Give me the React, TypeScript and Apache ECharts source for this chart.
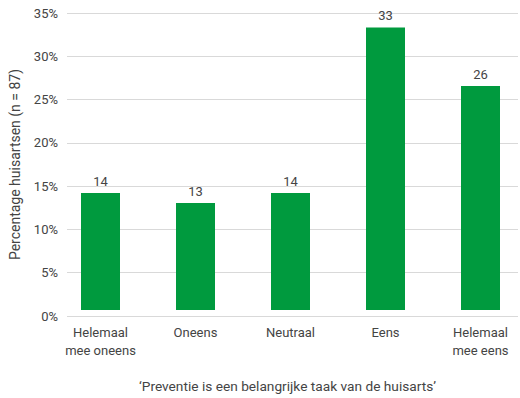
import React, { useEffect, useRef } from "react";
import * as echarts from "echarts";

const categories = ["Helemaal\nmee oneens", "Oneens", "Neutraal", "Eens", "Helemaal\nmee eens"];
const percentages = [13.8, 12.6, 13.8, 33.3, 26.4];
const barLabels = ["14", "13", "14", "33", "26"];
const yTicks = [0, 5, 10, 15, 20, 25, 30, 35];

const FONT = "Roboto";
const TEXT = "#444444";

export default function App() {
  const ref = useRef<HTMLDivElement>(null);
  useEffect(() => {
    if (!ref.current) return;
    const chart = echarts.init(ref.current, undefined, { renderer: "svg" });
    chart.setOption({
      animation: false,
      textStyle: { fontFamily: FONT },
      grid: [
        { left: 53, width: 475, top: 13, bottom: 82, containLabel: false },
        { left: 61, width: 457, top: 13, bottom: 82, containLabel: false },
      ],
      xAxis: [
        {
          type: "category",
          gridIndex: 0,
          data: categories,
          axisLine: { show: false },
          axisTick: { show: false },
          axisLabel: { color: TEXT, fontSize: 13, fontFamily: FONT, margin: 13, lineHeight: 18 },
          name: "\u2018Preventie is een belangrijke taak van de huisarts\u2019",
          nameLocation: "middle",
          nameGap: 69,
          nameTextStyle: { color: TEXT, fontSize: 13.7, fontFamily: FONT, padding: [0, 6, 0, 0] },
        },
        {
          type: "category",
          gridIndex: 1,
          data: categories,
          show: false,
        },
      ],
      yAxis: [
        {
          type: "value",
          gridIndex: 0,
          min: 0,
          max: 35,
          interval: 5,
          show: false,
        },
        {
          type: "value",
          gridIndex: 1,
          min: yTicks[0],
          max: yTicks[yTicks.length - 1],
          interval: 5,
          axisLine: { show: false },
          axisTick: { show: false },
          axisLabel: { color: TEXT, fontSize: 13, fontFamily: FONT, margin: 9, formatter: "{value}%" },
          splitLine: { lineStyle: { color: "#d9d9d9", width: 1 } },
          name: "Percentage huisartsen (n = 87)",
          nameLocation: "middle",
          nameGap: 45,
          nameTextStyle: { color: TEXT, fontSize: 14, fontFamily: FONT },
        },
      ],
      series: [
        {
          type: "bar",
          xAxisIndex: 0,
          yAxisIndex: 0,
          data: percentages,
          barWidth: 39,
          itemStyle: { color: "#009a3e" },
          label: {
            show: true,
            position: "top",
            distance: 5,
            color: TEXT,
            fontSize: 13,
            fontFamily: FONT,
            formatter: (p: any) => barLabels[p.dataIndex],
          },
          z: 3,
        },
      ],
    });
    return () => chart.dispose();
  }, []);
  return (
    <div style={{ position: "absolute", left: 0, top: 0, width: 520, height: 398, overflow: "hidden" }}>
      <div ref={ref} style={{ width: 530, height: 398 }} />
    </div>
  );
}
